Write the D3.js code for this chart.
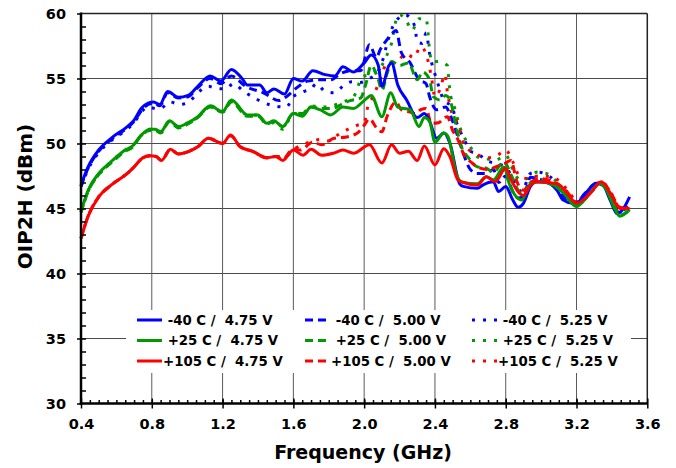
<!DOCTYPE html>
<html>
<head>
<meta charset="utf-8">
<script src="https://cdn.jsdelivr.net/npm/d3@7"></script>
<style>
  html, body { margin: 0; padding: 0; background: #fff; }
  svg { display: block; font-family: "DejaVu Sans", Verdana, sans-serif; font-weight: bold; }
</style>
</head>
<body>
<svg id="chart" width="676" height="468"></svg>
<script>
// ---------- DATA (frequency GHz, OIP2H dBm) ----------
const xTickValues = [0.4, 0.8, 1.2, 1.6, 2.0, 2.4, 2.8, 3.2, 3.6];
const yTickValues = [30, 35, 40, 45, 50, 55, 60];
const xTitle = "Frequency (GHz)";
const yTitle = "OIP2H (dBm)";

const blue475 = [[0.40,46.8],[0.44,48.2],[0.50,49.5],[0.57,50.4],[0.67,51.4],[0.70,51.8],[0.74,52.7],[0.78,53.1],[0.81,53.2],[0.845,53.0],[0.89,54.0],[0.95,53.55],[1.005,53.7],[1.06,54.4],[1.13,55.2],[1.19,54.8],[1.25,55.7],[1.31,55.0],[1.34,54.5],[1.41,54.5],[1.45,53.9],[1.49,54.2],[1.55,53.8],[1.60,55.0],[1.65,54.8],[1.71,55.6],[1.78,55.3],[1.835,55.2],[1.88,55.9],[1.94,55.5],[2.00,56.2],[2.04,56.8],[2.08,56.0],[2.10,54.4],[2.14,56.0],[2.155,56.2],[2.19,54.5],[2.24,53.35],[2.30,52.0],[2.34,52.3],[2.37,51.7],[2.41,50.4],[2.45,50.8],[2.485,50.0],[2.54,46.9],[2.56,46.7],[2.64,46.55],[2.67,46.8],[2.73,47.05],[2.76,46.3],[2.80,46.7],[2.84,45.65],[2.87,45.1],[2.90,45.4],[2.94,46.7],[2.975,47.05],[3.03,47.0],[3.09,46.4],[3.125,45.65],[3.18,45.4],[3.21,45.5],[3.26,46.3],[3.31,46.95],[3.35,46.8],[3.39,45.65],[3.43,44.6],[3.46,44.9],[3.50,45.9]];
const green475 = [[0.40,44.75],[0.44,46.4],[0.50,47.7],[0.57,48.6],[0.65,49.5],[0.69,49.8],[0.74,50.65],[0.79,51.1],[0.82,51.1],[0.85,50.9],[0.90,51.75],[0.95,51.3],[1.005,51.6],[1.06,52.06],[1.13,52.9],[1.20,52.45],[1.25,53.35],[1.34,52.2],[1.40,52.2],[1.45,51.55],[1.49,51.75],[1.54,51.3],[1.60,52.3],[1.65,52.1],[1.70,52.8],[1.75,52.6],[1.81,52.2],[1.88,52.8],[1.94,52.7],[2.00,53.3],[2.04,53.7],[2.10,52.06],[2.15,53.9],[2.19,52.8],[2.26,52.6],[2.31,51.3],[2.34,52.0],[2.37,51.7],[2.40,50.1],[2.45,50.8],[2.475,50.5],[2.52,47.7],[2.55,47.05],[2.64,46.9],[2.69,47.45],[2.73,47.2],[2.79,48.2],[2.82,46.9],[2.86,45.9],[2.89,45.65],[2.94,46.9],[2.99,47.05],[3.07,46.8],[3.125,46.2],[3.20,45.15],[3.26,45.9],[3.33,46.9],[3.37,46.4],[3.41,45.15],[3.445,44.4],[3.50,44.9]];
const red475 = [[0.40,42.7],[0.44,44.4],[0.50,45.9],[0.57,46.8],[0.67,47.8],[0.70,48.2],[0.75,48.9],[0.79,49.06],[0.825,49.0],[0.855,48.7],[0.905,49.55],[0.95,49.2],[1.01,49.4],[1.06,49.75],[1.12,50.4],[1.20,50.0],[1.245,50.65],[1.30,49.75],[1.37,49.4],[1.45,48.9],[1.50,49.0],[1.54,48.7],[1.60,49.5],[1.655,49.1],[1.70,49.55],[1.76,49.1],[1.825,49.25],[1.88,49.5],[1.94,49.25],[2.03,49.9],[2.10,48.5],[2.155,49.9],[2.20,49.25],[2.25,49.4],[2.30,48.7],[2.34,49.8],[2.40,48.35],[2.45,49.6],[2.485,48.98],[2.53,47.2],[2.56,47.0],[2.64,46.8],[2.69,47.45],[2.74,47.06],[2.80,48.1],[2.83,47.2],[2.90,46.0],[2.94,46.8],[2.975,47.06],[3.09,46.9],[3.14,46.3],[3.20,45.4],[3.28,46.2],[3.34,47.06],[3.39,46.2],[3.445,45.0],[3.50,45.0]];

const blue500 = [[0.40,46.7],[0.44,48.1],[0.50,49.4],[0.57,50.3],[0.67,51.3],[0.70,51.7],[0.74,52.5],[0.78,53.0],[0.81,53.1],[0.845,52.9],[0.89,53.9],[0.95,53.5],[1.005,53.6],[1.06,54.3],[1.13,55.0],[1.19,54.6],[1.25,55.2],[1.33,54.4],[1.43,53.9],[1.52,53.3],[1.56,53.6],[1.62,54.3],[1.68,54.8],[1.75,54.9],[1.81,54.9],[1.87,55.4],[1.93,55.6],[1.98,55.6],[2.03,57.6],[2.07,56.6],[2.09,57.2],[2.13,58.0],[2.16,58.5],[2.18,58.7],[2.21,57.0],[2.26,56.2],[2.31,54.9],[2.35,54.6],[2.37,53.6],[2.41,52.6],[2.46,52.8],[2.49,52.06],[2.53,50.5],[2.56,49.25],[2.60,48.0],[2.64,47.7],[2.69,47.7],[2.73,48.0],[2.76,47.0],[2.80,47.5],[2.84,46.3],[2.87,45.8],[2.90,45.9],[2.94,47.4],[2.98,47.3],[3.03,47.05],[3.09,46.5],[3.125,45.9],[3.19,45.4],[3.25,46.2],[3.31,46.9],[3.35,46.8],[3.40,45.5],[3.44,44.7],[3.48,45.1]];
const green500 = [[0.40,44.7],[0.44,46.3],[0.50,47.6],[0.57,48.5],[0.65,49.4],[0.69,49.7],[0.74,50.6],[0.79,51.0],[0.82,51.0],[0.85,50.8],[0.90,51.7],[0.95,51.2],[1.005,51.5],[1.06,52.0],[1.13,52.8],[1.20,52.4],[1.25,53.2],[1.34,52.1],[1.40,52.1],[1.45,51.5],[1.49,51.7],[1.54,51.3],[1.60,52.3],[1.65,52.3],[1.70,52.8],[1.76,52.7],[1.82,52.7],[1.87,53.0],[1.92,53.3],[1.98,53.5],[2.01,54.6],[2.04,56.0],[2.08,54.9],[2.10,54.1],[2.13,55.4],[2.155,56.3],[2.20,56.0],[2.25,56.2],[2.30,54.9],[2.33,55.5],[2.37,54.9],[2.39,53.6],[2.43,53.35],[2.46,53.7],[2.485,53.35],[2.52,51.3],[2.55,49.75],[2.59,48.9],[2.64,48.2],[2.69,48.1],[2.73,47.8],[2.79,48.6],[2.83,47.6],[2.87,46.4],[2.90,46.0],[2.94,47.0],[3.00,47.2],[3.07,46.9],[3.125,46.3],[3.20,45.2],[3.26,45.9],[3.33,46.9],[3.37,46.5],[3.41,45.3],[3.445,44.5],[3.50,44.9]];
const red500 = [[0.40,42.7],[0.44,44.4],[0.50,45.9],[0.57,46.8],[0.67,47.8],[0.70,48.2],[0.75,48.9],[0.79,49.06],[0.825,49.0],[0.855,48.7],[0.905,49.55],[0.95,49.2],[1.01,49.4],[1.06,49.75],[1.12,50.4],[1.20,50.0],[1.245,50.6],[1.30,49.75],[1.37,49.4],[1.45,48.9],[1.50,49.0],[1.54,48.8],[1.60,49.6],[1.64,49.5],[1.71,50.1],[1.76,49.9],[1.83,50.4],[1.90,50.5],[1.97,50.9],[2.00,51.4],[2.03,51.9],[2.07,51.2],[2.10,50.9],[2.13,52.1],[2.18,53.2],[2.21,52.6],[2.25,52.45],[2.29,52.3],[2.32,52.6],[2.35,52.7],[2.38,51.55],[2.42,51.6],[2.47,52.06],[2.50,51.0],[2.53,50.3],[2.56,49.25],[2.61,48.5],[2.64,48.2],[2.70,48.0],[2.76,48.3],[2.80,48.5],[2.83,48.7],[2.86,47.2],[2.90,46.4],[2.94,47.0],[2.99,47.3],[3.08,47.0],[3.14,46.4],[3.20,45.5],[3.28,46.3],[3.34,47.06],[3.39,46.3],[3.445,45.1],[3.50,45.0]];

const blue525 = [[0.40,46.7],[0.44,48.0],[0.50,49.3],[0.57,50.2],[0.67,51.2],[0.70,51.6],[0.74,52.4],[0.78,52.8],[0.82,52.7],[0.85,52.7],[0.90,53.2],[0.96,53.0],[1.01,53.2],[1.06,53.9],[1.12,54.4],[1.16,54.25],[1.22,54.2],[1.26,54.6],[1.32,54.0],[1.38,53.5],[1.46,53.0],[1.56,52.8],[1.60,53.6],[1.66,54.0],[1.70,54.2],[1.73,54.6],[1.78,54.0],[1.83,53.9],[1.88,54.4],[1.93,54.75],[1.98,54.7],[2.03,55.0],[2.07,55.4],[2.10,56.2],[2.13,57.7],[2.15,58.6],[2.18,59.4],[2.23,59.9],[2.27,59.5],[2.29,58.7],[2.30,57.8],[2.33,57.7],[2.35,58.5],[2.37,56.9],[2.41,54.9],[2.45,53.35],[2.50,52.8],[2.51,52.2],[2.53,51.3],[2.56,50.5],[2.60,49.4],[2.64,49.25],[2.69,48.7],[2.73,48.5],[2.80,48.2],[2.85,47.0],[2.89,46.3],[2.94,47.7],[2.98,47.8],[3.05,47.45],[3.10,46.7],[3.14,46.0],[3.19,45.4],[3.26,46.1],[3.31,46.9],[3.35,46.8],[3.40,45.6],[3.44,44.8],[3.48,45.0]];
const green525 = [[0.40,44.7],[0.44,46.3],[0.50,47.6],[0.57,48.6],[0.65,49.5],[0.69,49.8],[0.74,50.6],[0.79,51.1],[0.82,51.1],[0.85,50.9],[0.90,51.7],[0.95,51.3],[1.005,51.6],[1.06,52.0],[1.13,52.9],[1.20,52.5],[1.25,53.3],[1.34,52.2],[1.40,52.2],[1.45,51.5],[1.49,51.6],[1.54,51.1],[1.60,52.3],[1.65,52.3],[1.70,52.9],[1.76,52.8],[1.82,52.9],[1.88,53.2],[1.94,53.6],[1.99,55.1],[2.05,55.4],[2.10,56.0],[2.14,57.2],[2.16,58.0],[2.17,58.9],[2.20,59.9],[2.24,59.4],[2.27,58.7],[2.31,59.6],[2.35,59.6],[2.37,57.2],[2.38,56.3],[2.42,56.3],[2.47,56.0],[2.48,54.6],[2.49,53.6],[2.51,52.8],[2.54,51.3],[2.60,49.75],[2.64,48.98],[2.68,48.86],[2.74,48.7],[2.80,49.1],[2.84,48.0],[2.88,47.2],[2.92,47.3],[2.98,47.8],[3.05,47.6],[3.10,46.8],[3.14,46.2],[3.20,45.3],[3.27,46.0],[3.33,46.9],[3.37,46.5],[3.41,45.3],[3.445,44.5],[3.50,44.9]];
const red525 = [[0.40,42.7],[0.44,44.4],[0.50,45.9],[0.57,46.8],[0.67,47.8],[0.70,48.2],[0.75,48.9],[0.79,49.06],[0.825,49.0],[0.855,48.7],[0.905,49.55],[0.95,49.2],[1.01,49.4],[1.06,49.75],[1.12,50.4],[1.20,50.0],[1.245,50.6],[1.30,49.75],[1.37,49.4],[1.45,48.9],[1.50,49.0],[1.55,49.0],[1.62,49.7],[1.69,50.1],[1.75,50.3],[1.80,50.2],[1.85,50.65],[1.91,51.1],[1.96,51.4],[2.00,51.6],[2.02,52.8],[2.05,53.6],[2.09,54.9],[2.13,56.2],[2.18,56.3],[2.24,56.9],[2.28,56.6],[2.32,57.45],[2.36,56.4],[2.38,55.1],[2.40,53.6],[2.43,54.2],[2.456,55.3],[2.47,54.0],[2.49,52.6],[2.52,51.8],[2.55,50.6],[2.57,49.75],[2.63,49.25],[2.68,48.9],[2.74,48.98],[2.80,49.5],[2.84,48.6],[2.88,47.45],[2.93,47.3],[2.98,47.5],[3.06,47.45],[3.11,47.0],[3.15,46.4],[3.20,45.65],[3.28,46.4],[3.34,47.1],[3.39,46.3],[3.445,45.1],[3.50,45.1]];

const temps = [" -40 C", " +25 C", "+105 C"];
const volts = ["4.75 V", "5.00 V", "5.25 V"];
const colors = ["#0000ff", "#009a00", "#ff0000"];
const dashes = [null, "8,5", "3,8"];
const dataGrid = [[blue475, green475, red475], [blue500, green500, red500], [blue525, green525, red525]];

// ---------- CHART ----------
const svg = d3.select("#chart");
const L = 81, R = 647.3, T = 13.5, B = 403.5;
const x = d3.scaleLinear().domain([0.4, 3.6]).range([L, R]);
const y = d3.scaleLinear().domain([30, 60]).range([B, T]);

// gridlines
const grid = svg.append("g");
grid.selectAll(".hg").data(yTickValues.filter(v => v > 30 && v < 60)).join("line")
  .attr("x1", L).attr("x2", R).attr("y1", d => y(d)).attr("y2", d => y(d))
  .attr("stroke", "#4a4a4a").attr("stroke-width", 1);
grid.selectAll(".vg").data(xTickValues.filter(v => v > 0.4 && v < 3.6)).join("line")
  .attr("x1", d => x(d)).attr("x2", d => x(d)).attr("y1", T).attr("y2", B)
  .attr("stroke", "#5a5a5a").attr("stroke-width", 1);

// frame top/right
svg.append("line").attr("x1", L).attr("x2", R).attr("y1", T).attr("y2", T).attr("stroke", "#222").attr("stroke-width", 1.5);
svg.append("line").attr("x1", R).attr("x2", R).attr("y1", T).attr("y2", B).attr("stroke", "#222").attr("stroke-width", 1.5);

// legend background (hides gridlines)
const legX = 126, legY = 310, legW = 505, legH = 63;

// lines
const line = d3.line().x(d => x(d[0])).y(d => y(d[1])).curve(d3.curveMonotoneX);
const plot = svg.append("g");
for (let v = 2; v >= 0; v--) {
  for (let t = 0; t < 3; t++) {
    plot.append("path").datum(dataGrid[v][t])
      .attr("d", line).attr("fill", "none")
      .attr("stroke", colors[t]).attr("stroke-width", 3)
      .attr("stroke-dasharray", dashes[v])
      .attr("stroke-linejoin", "round");
  }
}

// legend
const leg = svg.append("g");
leg.append("rect").attr("x", legX).attr("y", legY).attr("width", legW).attr("height", legH).attr("fill", "#fff");
const colX = [137, 305, 472];
const rowY = [320, 340.5, 361];
for (let v = 0; v < 3; v++) {
  for (let t = 0; t < 3; t++) {
    leg.append("line").attr("x1", colX[v]).attr("x2", colX[v] + 25)
      .attr("y1", rowY[t]).attr("y2", rowY[t])
      .attr("stroke", colors[t]).attr("stroke-width", 3)
      .attr("stroke-dasharray", dashes[v]);
    leg.append("text").attr("x", colX[v] + 26).attr("y", rowY[t])
      .attr("dy", "0.36em").attr("font-size", "13.3px")
      .attr("xml:space", "preserve").style("white-space", "pre")
      .attr("fill", "#000")
      .text(temps[t] + " /  " + volts[v]);
  }
}

// axes
const fmt = d3.format(".1f");
const yAxis = svg.append("g").attr("transform", `translate(${L},0)`)
  .call(d3.axisLeft(y).tickValues(yTickValues).tickSize(4).tickPadding(11));
const yMinor = svg.append("g").attr("transform", `translate(${L},0)`)
  .call(d3.axisRight(y).tickValues(d3.range(31, 60)).tickSize(5).tickFormat(""));
const xAxis = svg.append("g").attr("transform", `translate(0,${B})`)
  .call(d3.axisBottom(x).tickValues(xTickValues).tickFormat(fmt).tickSize(5).tickPadding(10));
const xMajorIn = svg.append("g").attr("transform", `translate(0,${B})`)
  .call(d3.axisTop(x).tickValues(xTickValues).tickSize(5).tickFormat(""));
const xMinor = svg.append("g").attr("transform", `translate(0,${B})`)
  .call(d3.axisTop(x).tickValues(d3.range(0.45, 3.6, 0.05)).tickSize(3.5).tickFormat(""));

[yAxis, yMinor, xAxis, xMajorIn, xMinor].forEach(g => {
  g.select(".domain").remove();
  g.selectAll(".tick line").attr("stroke", "#000").attr("stroke-width", 1.5);
  g.selectAll("text").attr("font-family", "DejaVu Sans, sans-serif").attr("font-weight", "bold")
    .attr("font-size", "14.5px").attr("fill", "#000");
});

svg.append("line").attr("x1", L).attr("x2", L).attr("y1", T - 1).attr("y2", B + 1.2).attr("stroke", "#000").attr("stroke-width", 2.5);
svg.append("line").attr("x1", L - 1.2).attr("x2", R + 0.8).attr("y1", B).attr("y2", B).attr("stroke", "#000").attr("stroke-width", 2.5);

// titles
svg.append("text").attr("x", 363).attr("y", 452).attr("dy", "0.36em")
  .attr("text-anchor", "middle").attr("font-size", "19px").text(xTitle);
svg.append("text").attr("transform", "translate(25,196.5) rotate(-90)")
  .attr("dy", "0.36em").attr("text-anchor", "middle").attr("font-size", "20px").text(yTitle);
</script>
</body>
</html>
